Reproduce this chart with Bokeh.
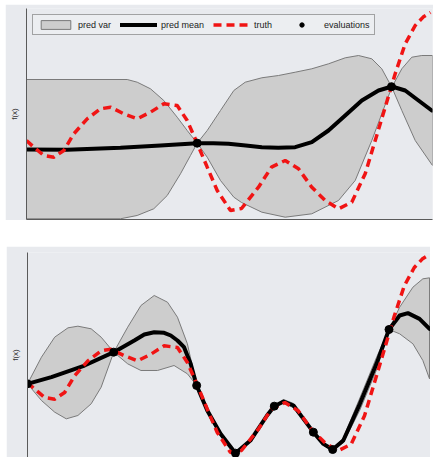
from bokeh.plotting import figure
from bokeh.layouts import column
from bokeh.models import Range1d, Legend, LegendItem, FixedTicker
from bokeh.embed import file_html
from bokeh.resources import INLINE

# ---------------- data ----------------
# true function (same in both panels)
truth_x = [0.0, 0.18, 0.426, 0.672, 0.919, 1.165, 1.495, 1.823, 2.069, 2.397, 2.727,
           3.054, 3.382, 3.712, 3.958, 4.204, 4.451, 4.697, 5.025, 5.296, 5.714, 6.034,
           6.372, 6.7, 7.027, 7.357, 7.685, 8.012, 8.342, 8.589, 8.835, 9.081, 9.327,
           9.574, 9.77, 9.951]
truth_y = [0.667, 0.443, 0.167, 0.11, 0.333, 0.89, 1.39, 1.723, 1.777, 1.557, 1.39,
           1.61, 1.89, 1.833, 1.333, 0.577, -0.223, -1.0, -1.667, -1.6, -0.89, -0.223,
           0.0, -0.277, -0.89, -1.333, -1.61, -1.39, -0.443, 0.667, 1.777, 2.89, 3.89,
           4.5, 4.78, 4.933]

# top panel: 2 evaluations
top_mean_x = [0.0, 1.0, 2.315, 3.3, 3.8, 4.204, 4.6, 4.975, 5.4, 5.796, 6.2, 6.618,
              7.027, 7.438, 7.85, 8.259, 8.67, 8.998, 9.328, 9.655, 9.983]
top_mean_y = [0.367, 0.36, 0.423, 0.5, 0.545, 0.577, 0.575, 0.557, 0.5, 0.443, 0.425,
              0.443, 0.61, 1.0, 1.5, 2.0, 2.333, 2.467, 2.333, 2.0, 1.667]
top_upper_x = [0.0, 2.48, 2.727, 3.054, 3.382, 3.712, 3.958, 4.204, 4.451, 4.778, 5.106,
               5.387, 5.796, 6.207, 6.618, 7.027, 7.438, 7.85, 8.177, 8.505, 8.751,
               8.998, 9.244, 9.49, 9.736, 10.0]
top_upper_y = [2.7, 2.7, 2.61, 2.39, 2.0, 1.443, 1.0, 0.577, 1.0, 1.667, 2.333,
               2.61, 2.757, 2.833, 2.943, 3.057, 3.223, 3.423, 3.5, 3.39, 3.057,
               2.443, 3.057, 3.443, 3.5, 3.5]
top_lower_x = [0.0, 2.315, 2.727, 3.135, 3.466, 3.793, 4.039, 4.204, 4.451, 4.778, 5.106,
               5.296, 5.796, 6.372, 7.027, 7.685, 8.096, 8.505, 8.751, 8.998, 9.244,
               9.574, 10.0]
top_lower_y = [-1.943, -1.943, -1.833, -1.61, -1.167, -0.443, 0.167, 0.577, 0.11, -0.667,
               -1.223, -1.4, -1.723, -1.89, -1.777, -1.333, -0.667, 0.667, 1.557, 2.443,
               1.667, 0.667, -0.167]
top_eval_x = [4.204, 8.99]
top_eval_y = [0.577, 2.46]

# bottom panel: 8 evaluations
bot_mean_x = [0.0, 0.591, 1.412, 2.135, 2.644, 2.89, 3.136, 3.382, 3.547, 3.712, 3.875,
              4.039, 4.187, 4.45, 4.778, 5.148, 5.517, 5.929, 6.108, 6.338, 6.584, 6.83,
              7.076, 7.323, 7.554, 7.816, 8.227, 8.638, 8.948, 9.212, 9.416, 9.704,
              9.951]
bot_mean_y = [0.622, 0.844, 1.233, 1.678, 2.067, 2.267, 2.344, 2.322, 2.233, 2.067,
              1.844, 1.289, 0.567, -0.267, -1.044, -1.689, -1.267, -0.433, -0.122, 0.033,
              -0.1, -0.544, -0.989, -1.378, -1.567, -1.267, -0.044, 1.289, 2.433, 2.9,
              2.978, 2.789, 2.456]
bot_upper_x = [0.0, 0.345, 0.673, 1.002, 1.248, 1.576, 1.823, 2.135, 2.48, 2.808, 3.136,
               3.465, 3.712, 3.958, 4.187, 4.45, 4.778, 5.148, 5.517, 5.929, 6.108,
               6.338, 6.584, 6.83, 7.076, 7.323, 7.554, 7.816, 8.227, 8.638, 8.948,
               9.212, 9.54, 9.786, 9.951]
bot_upper_y = [0.622, 1.511, 2.178, 2.489, 2.544, 2.456, 2.178, 1.678, 2.511, 3.233, 3.567,
               3.344, 2.844, 1.956, 0.567, -0.2, -0.98, -1.689, -1.2, -0.38, -0.122,
               0.1, -0.03, -0.49, -0.989, -1.33, -1.567, -1.18, 0.15, 1.5, 2.433,
               3.178, 3.844, 4.122, 4.156]
bot_lower_x = [0.0, 0.345, 0.673, 0.96, 1.248, 1.576, 1.823, 2.135, 2.48, 2.808, 3.218,
               3.628, 3.958, 4.187, 4.45, 4.778, 5.148, 5.517, 5.929, 6.108, 6.338,
               6.584, 6.83, 7.076, 7.323, 7.554, 7.816, 8.227, 8.638, 8.948, 9.212,
               9.54, 9.786, 9.951]
bot_lower_y = [0.622, 0.067, -0.322, -0.544, -0.433, -0.044, 0.511, 1.678, 1.289, 1.067,
               1.067, 1.233, 0.956, 0.567, -0.33, -1.11, -1.689, -1.33, -0.49, -0.122,
               -0.03, -0.17, -0.6, -0.989, -1.43, -1.567, -1.35, -0.25, 1.08, 2.433,
               2.289, 1.956, 1.4, 0.789]
bot_eval_x = [0.0, 2.135, 4.187, 5.148, 6.108, 7.076, 7.554, 8.948]
bot_eval_y = [0.622, 1.678, 0.567, -1.689, -0.122, -0.989, -1.567, 2.433]

labels = ["pred var", "pred mean", "truth", "evaluations"]

# ---------------- style ----------------
BG = "#e8eaee"
BAND = "#cdcdcd"
BAND_LINE = "#7a7a7a"
RED = "#f01414"
FONT = "Liberation Sans"


def style(p, show_x_axis):
    p.background_fill_color = BG
    p.border_fill_color = BG
    p.outline_line_color = None
    p.grid.visible = False
    for ax in p.axis:
        ax.ticker = FixedTicker(ticks=[])
        ax.major_tick_line_color = None
        ax.minor_tick_line_color = None
        ax.major_tick_out = 0
        ax.major_tick_in = 0
        ax.major_label_standoff = 0
        ax.major_label_text_font_size = "0px"
        ax.axis_line_color = "#5a5a5a"
        ax.axis_line_width = 1
    p.yaxis.axis_label = "f(x)"
    p.yaxis.axis_label_text_font = FONT
    p.yaxis.axis_label_text_font_size = "8px"
    p.yaxis.axis_label_text_font_style = "normal"
    p.yaxis.axis_label_text_color = "#333333"
    p.yaxis.axis_label_standoff = 8
    if not show_x_axis:
        p.xaxis.visible = False


def draw(p, ux, uy, lx, ly, mx, my, ex, ey):
    band = p.patch(ux + lx[::-1], uy + ly[::-1], fill_color=BAND, fill_alpha=1,
                   line_color=BAND_LINE, line_width=1)
    mean = p.line(mx, my, line_color="black", line_width=4, line_cap="round",
                  line_join="round")
    tr = p.line(truth_x, truth_y, line_color=RED, line_width=3.5, line_dash="8 5")
    ev = p.scatter(ex, ey, size=8, fill_color="black", line_color="black")
    return band, mean, tr, ev


p1 = figure(frame_width=406, frame_height=211, x_range=Range1d(0, 10),
            y_range=Range1d(-1.967, 5.067), output_backend="svg",
            toolbar_location=None, min_border_left=21, min_border_right=1,
            min_border_top=4, min_border_bottom=1)
p1.margin = (4, 0, 0, 5)
style(p1, True)
rs = draw(p1, top_upper_x, top_upper_y, top_lower_x, top_lower_y,
          top_mean_x, top_mean_y, top_eval_x, top_eval_y)

legend = Legend(items=[LegendItem(label=lab, renderers=[r]) for lab, r in zip(labels, rs)],
                orientation="horizontal", location="top_left", margin=6, padding=4,
                spacing=9, glyph_width=37, glyph_height=11, label_height=10,
                label_standoff=4, label_text_font=FONT, label_text_font_size="9px",
                label_text_color="#222222", border_line_color="#555555",
                border_line_width=1.5, background_fill_color="#eceef1",
                background_fill_alpha=1)
p1.add_layout(legend)

p2 = figure(frame_width=404, frame_height=205, x_range=Range1d(0, 10),
            y_range=Range1d(-1.833, 5.0), output_backend="svg",
            toolbar_location=None, min_border_left=20, min_border_right=0,
            min_border_top=6, min_border_bottom=0)
p2.margin = (0, 0, 0, 6)
style(p2, False)
draw(p2, bot_upper_x, bot_upper_y, bot_lower_x, bot_lower_y,
     bot_mean_x, bot_mean_y, bot_eval_x, bot_eval_y)

layout = column(p1, p2, spacing=26)
open("out.html", "w").write(file_html(layout, INLINE))
